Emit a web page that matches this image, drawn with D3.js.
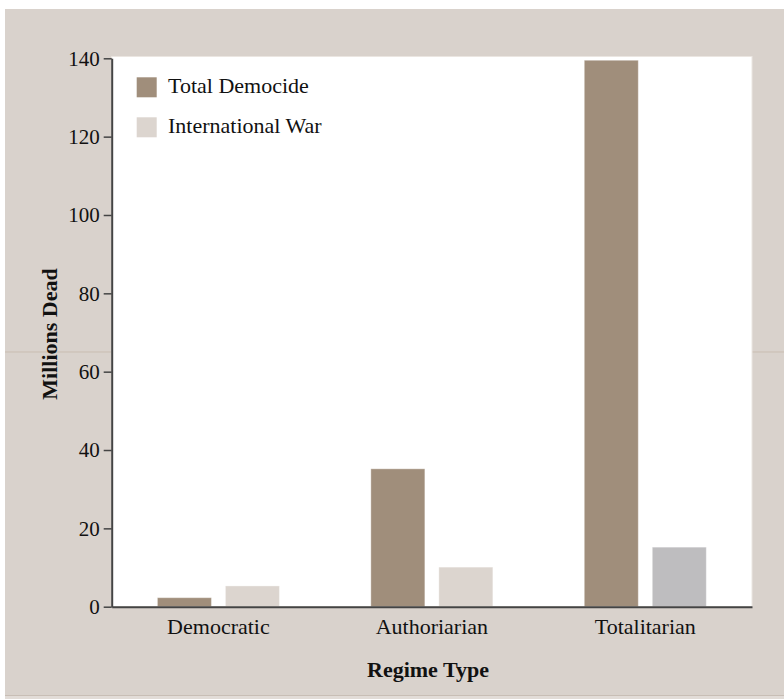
<!DOCTYPE html>
<html>
<head>
<meta charset="utf-8">
<script src="https://cdn.jsdelivr.net/npm/d3@7"></script>
<style>
  html, body { margin: 0; padding: 0; background: #ffffff; }
  svg { display: block; }
  text { font-family: "Liberation Serif", "Times New Roman", serif; fill: #111; }
</style>
</head>
<body>
<svg id="chart" width="784" height="699"></svg>
<script>
// ---- data ----
const categories = ["Democratic", "Authoriarian", "Totalitarian"];
const seriesNames = ["Total Democide", "International War"];
const totalDemocide = [2.3, 35.2, 139.5];
const internationalWar = [5.3, 10.1, 15.2];
const yTicks = [0, 20, 40, 60, 80, 100, 120, 140];

// ---- styles ----
const seriesColors = ["#a08e7b", "#dcd5cf"];
const highlightColor = "#bebdbf";
const highlight = { category: "Totalitarian", series: "International War" };

const svg = d3.select("#chart");
const W = 784, H = 699;

// background panels
svg.append("rect").attr("x", 5).attr("y", 9).attr("width", W - 5).attr("height", 686).attr("fill", "#d9d2cc");
svg.append("rect").attr("x", 5).attr("y", 695).attr("width", W - 5).attr("height", 4).attr("fill", "#e2dcd7");
svg.append("line").attr("x1", 5).attr("x2", W).attr("y1", 695.5).attr("y2", 695.5).attr("stroke", "#c8beb5").attr("stroke-width", 1);
svg.append("line").attr("x1", 5).attr("x2", W).attr("y1", 352).attr("y2", 352).attr("stroke", "#c9bdb1").attr("stroke-width", 1);

const plot = { left: 111.7, right: 752, top: 58.3, bottom: 606.7 };

// plot white area
svg.append("rect")
  .attr("x", plot.left).attr("y", 56.5)
  .attr("width", plot.right - plot.left).attr("height", plot.bottom - 56.5)
  .attr("fill", "#ffffff").attr("stroke", "#ebe6e1").attr("stroke-width", 1);

const x0 = d3.scaleBand().domain(categories).range([plot.left, plot.right]).padding(0);
const x1 = d3.scaleBand().domain(seriesNames)
  .range([x0.bandwidth() / 2 - 61, x0.bandwidth() / 2 + 61]).paddingInner(0.206).paddingOuter(0);
const y = d3.scaleLinear().domain([0, 140]).range([plot.bottom, plot.top]);

const rows = categories.map((c, i) => ({
  category: c,
  values: [
    { series: seriesNames[0], value: totalDemocide[i] },
    { series: seriesNames[1], value: internationalWar[i] }
  ]
}));

const g = svg.append("g");
g.selectAll("g.grp").data(rows).join("g")
  .attr("class", "grp")
  .attr("transform", d => `translate(${x0(d.category)},0)`)
  .selectAll("rect").data(d => d.values.map(v => ({ ...v, category: d.category }))).join("rect")
  .attr("x", d => x1(d.series))
  .attr("width", x1.bandwidth())
  .attr("y", d => y(d.value))
  .attr("height", d => y(0) - y(d.value))
  .attr("fill", d => (d.category === highlight.category && d.series === highlight.series)
      ? highlightColor : seriesColors[seriesNames.indexOf(d.series)])
  .attr("stroke", "rgba(255,255,255,0.35)")
  .attr("stroke-width", 1);

// y axis
const yAxis = svg.append("g")
  .attr("transform", `translate(${plot.left},0)`)
  .call(d3.axisLeft(y).tickValues(yTicks).tickSize(8).tickPadding(4).tickSizeOuter(0));
yAxis.select(".domain").attr("stroke", "#444").attr("stroke-width", 2);
yAxis.selectAll(".tick line").attr("stroke", "#444").attr("stroke-width", 1.5);
yAxis.selectAll(".tick text")
  .style("font-family", "'Liberation Serif', 'Times New Roman', serif")
  .style("font-size", "21px").attr("fill", "#111");

// x axis
const xAxis = svg.append("g")
  .attr("transform", `translate(0,${plot.bottom})`)
  .call(d3.axisBottom(x0).tickSize(0).tickPadding(12).tickSizeOuter(0));
xAxis.select(".domain").attr("stroke", "#444").attr("stroke-width", 2);
xAxis.selectAll(".tick text")
  .style("font-family", "'Liberation Serif', 'Times New Roman', serif")
  .style("font-size", "22px").attr("fill", "#111");

// axis titles
svg.append("text")
  .attr("x", 428).attr("y", 677)
  .attr("text-anchor", "middle")
  .style("font-size", "22px").style("font-weight", "bold")
  .text("Regime Type");

svg.append("text")
  .attr("transform", "translate(56.5,334) rotate(-90)")
  .attr("text-anchor", "middle")
  .style("font-size", "22px").style("font-weight", "bold")
  .text("Millions Dead");

// legend
const legend = svg.append("g");
seriesNames.forEach((name, i) => {
  const ly = 77.3 + i * 40;
  legend.append("rect")
    .attr("x", 136.7).attr("y", ly).attr("width", 20).attr("height", 20)
    .attr("fill", seriesColors[i]);
  legend.append("text")
    .attr("x", 168).attr("y", ly + 16)
    .style("font-size", "22px")
    .text(name);
});
</script>
</body>
</html>
